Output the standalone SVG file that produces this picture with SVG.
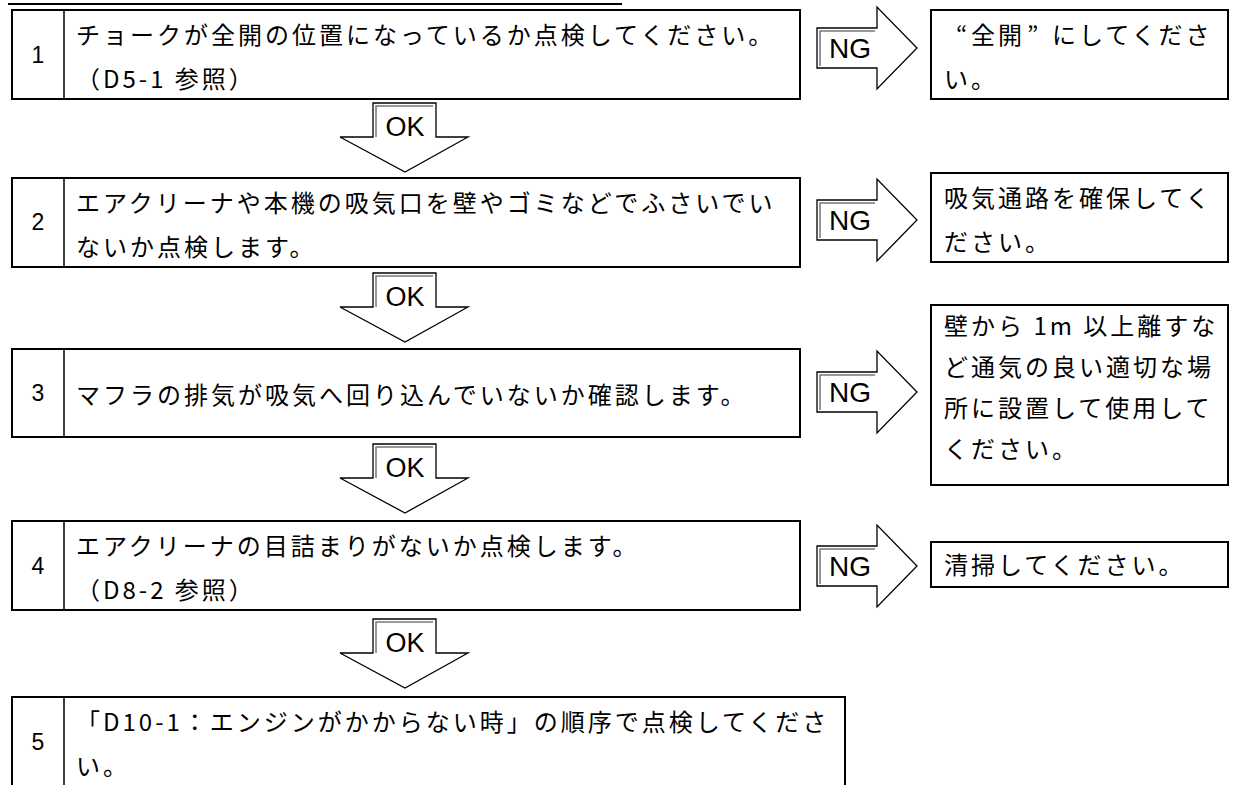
<svg xmlns="http://www.w3.org/2000/svg" width="1234" height="785" viewBox="0 0 1234 785">
<style>
.box{fill:#fff;stroke:#000;stroke-width:2}
.dv{stroke:#000;stroke-width:1.5}
.jp{font-family:"Noto Sans CJK JP","Noto Sans CJK SC",sans-serif;font-size:24px;letter-spacing:3px;fill:#000}
.num{font-family:"Liberation Sans",Arial,sans-serif;font-size:23px;text-anchor:middle;fill:#000}
.ok{font-family:"Liberation Sans",Arial,sans-serif;font-size:27px;text-anchor:middle;fill:#000}
.ng{font-family:"Liberation Sans",Arial,sans-serif;font-size:28px;text-anchor:middle;fill:#000}
.arr{fill:#fff;stroke:#000;stroke-width:1.3;stroke-linejoin:miter}
.bev{fill:none;stroke:#777;stroke-width:1.5}
</style>
<rect width="1234" height="785" fill="#fff"/>
<line x1="8" y1="4" x2="622" y2="4" stroke="#000" stroke-width="2"/>

<g id="connectors">
  <g id="ng1"><polygon class="arr" points="817,28 877,28 877,7 917,48 877,89 877,68 817,68"/><polyline class="bev" points="820,66 820,31 875,31"/><text class="ng" x="850" y="58">NG</text></g>
  <g id="ng2"><polygon class="arr" points="817,200 877,200 877,179 917,220 877,261 877,240 817,240"/><polyline class="bev" points="820,238 820,203 875,203"/><text class="ng" x="850" y="230">NG</text></g>
  <g id="ng3"><polygon class="arr" points="817,372 877,372 877,351 917,392 877,433 877,412 817,412"/><polyline class="bev" points="820,410 820,375 875,375"/><text class="ng" x="850" y="402">NG</text></g>
  <g id="ng4"><polygon class="arr" points="817,546 877,546 877,525 917,566 877,607 877,586 817,586"/><polyline class="bev" points="820,584 820,549 875,549"/><text class="ng" x="850" y="576">NG</text></g>
  <g id="ok1"><polygon class="arr" points="373,103 436,103 436,137 468,137 405,172 340,137 373,137"/><polyline class="bev" points="376,137 376,106 433,106"/><text class="ok" x="405" y="136">OK</text></g>
  <g id="ok2"><polygon class="arr" points="373,273 436,273 436,307 468,307 405,342 340,307 373,307"/><polyline class="bev" points="376,307 376,276 433,276"/><text class="ok" x="405" y="306">OK</text></g>
  <g id="ok3"><polygon class="arr" points="373,444 436,444 436,478 468,478 405,513 340,478 373,478"/><polyline class="bev" points="376,478 376,447 433,447"/><text class="ok" x="405" y="477">OK</text></g>
  <g id="ok4"><polygon class="arr" points="373,619 436,619 436,653 468,653 405,688 340,653 373,653"/><polyline class="bev" points="376,653 376,622 433,622"/><text class="ok" x="405" y="652">OK</text></g>
</g>

<g id="step1">
  <rect class="box" x="12" y="10" width="788" height="89"/>
  <line class="dv" x1="64" y1="10" x2="64" y2="99"/>
  <text class="num" x="38" y="63">1</text>
  <text class="jp" x="76" y="44">チョークが全開の位置になっているか点検してください。</text>
  <text class="jp" x="76" y="88">（D5-1 参照）</text>
</g>
<g id="result1">
  <rect class="box" x="931" y="10" width="297" height="89"/>
  <text class="jp" y="44"><tspan x="956">“</tspan><tspan x="971">全開</tspan><tspan x="1027">”</tspan><tspan x="1052">にしてくださ</tspan></text>
  <text class="jp" x="944" y="88">い。</text>
</g>

<g id="step2">
  <rect class="box" x="12" y="178" width="788" height="89"/>
  <line class="dv" x1="64" y1="178" x2="64" y2="267"/>
  <text class="num" x="38" y="230">2</text>
  <text class="jp" x="76" y="212">エアクリーナや本機の吸気口を壁やゴミなどでふさいでい</text>
  <text class="jp" x="76" y="256">ないか点検します。</text>
</g>
<g id="result2">
  <rect class="box" x="931" y="173" width="297" height="89"/>
  <text class="jp" x="944" y="207">吸気通路を確保してく</text>
  <text class="jp" x="944" y="251">ださい。</text>
</g>

<g id="step3">
  <rect class="box" x="12" y="349" width="788" height="88"/>
  <line class="dv" x1="64" y1="349" x2="64" y2="437"/>
  <text class="num" x="38" y="401">3</text>
  <text class="jp" x="76" y="404">マフラの排気が吸気へ回り込んでいないか確認します。</text>
</g>
<g id="result3">
  <rect class="box" x="931" y="305" width="297" height="180"/>
  <text class="jp" x="944" y="335">壁から 1m 以上離すな</text>
  <text class="jp" x="944" y="376">ど通気の良い適切な場</text>
  <text class="jp" x="944" y="417">所に設置して使用して</text>
  <text class="jp" x="944" y="458">ください。</text>
</g>

<g id="step4">
  <rect class="box" x="12" y="521" width="788" height="89"/>
  <line class="dv" x1="64" y1="521" x2="64" y2="610"/>
  <text class="num" x="38" y="574">4</text>
  <text class="jp" x="76" y="555">エアクリーナの目詰まりがないか点検します。</text>
  <text class="jp" x="76" y="599">（D8-2 参照）</text>
</g>
<g id="result4">
  <rect class="box" x="931" y="542" width="297" height="45"/>
  <text class="jp" x="944" y="574">清掃してください。</text>
</g>

<g id="step5">
  <rect class="box" x="12" y="697" width="833" height="100"/>
  <line class="dv" x1="64" y1="697" x2="64" y2="785"/>
  <text class="num" x="38" y="750">5</text>
  <text class="jp" x="76" y="731">「D10-1：エンジンがかからない時」の順序で点検してくださ</text>
  <text class="jp" x="76" y="775">い。</text>
</g>
</svg>
